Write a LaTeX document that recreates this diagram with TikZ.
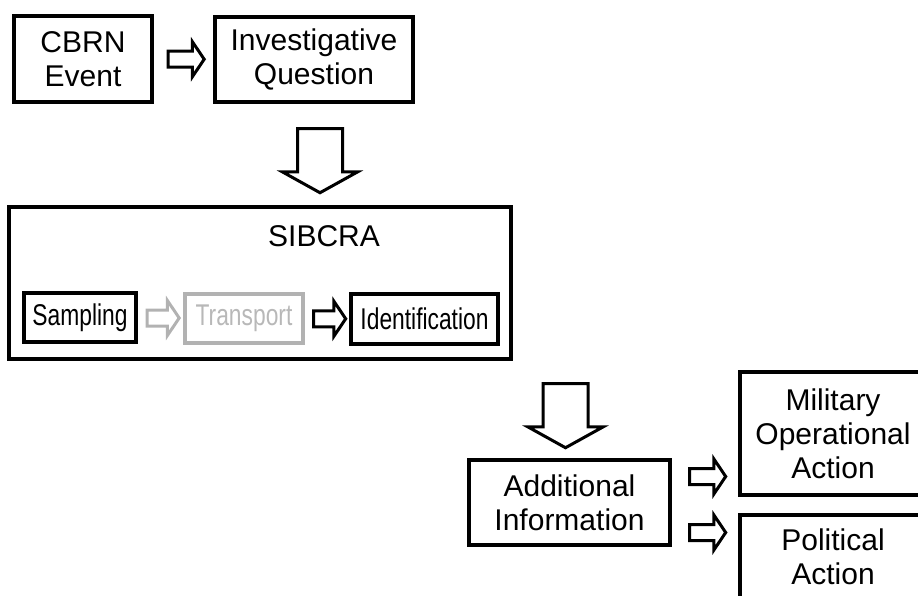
\documentclass[tikz,border=0pt]{standalone}
\usepackage{fontspec}
\setmainfont{Liberation Sans}
\newfontfamily\narrowsans{Liberation Sans}[FakeStretch=0.76]
\usetikzlibrary{shapes.arrows,calc}

\begin{document}
\begin{tikzpicture}[x=1pt, y=-1pt,
    box/.style={draw, rectangle, line width=4pt, align=center, inner sep=0pt, font=\fontsize{30}{34}\selectfont},
    stagebox/.style={box, font=\fontsize{30}{34}\narrowsans},
    faded/.style={draw=black!30, text=black!28},
    fatarrow/.style={draw, single arrow, line width=3pt, inner xsep=0pt, inner ysep=6.5pt, minimum height=36pt, minimum width=32pt, single arrow head extend=9.5pt, single arrow tip angle=112, single arrow head indent=0pt},
    bigarrow/.style={fatarrow, inner sep=21pt, minimum height=64pt, minimum width=72pt, single arrow head extend=15pt, single arrow tip angle=122, shape border rotate=270}]
    \useasboundingbox (0,0) rectangle (918,596);
        \node[box, minimum width=138pt, minimum height=86pt] (cbrn) at (83,59) {CBRN\\Event};
        \node[box, minimum width=198pt, minimum height=85pt] (question) at (314,59.5) {Investigative\\Question};
        \node[box, minimum width=502pt, minimum height=152pt] (sibcra) at (260,283) {};
        \node[font=\fontsize{30}{34}\selectfont, inner sep=0pt] (sibcralabel) at (324,236) {SIBCRA};
        \node[stagebox, minimum width=112pt, minimum height=49pt] (sampling) at (80,317.5) {Sampling};
        \node[stagebox, faded, minimum width=118pt, minimum height=49pt] (transport) at (244,318.5) {Transport};
        \node[stagebox, minimum width=147pt, minimum height=50pt] (ident) at (424.5,319) {Identification};
        \node[box, minimum width=201pt, minimum height=85pt] (addinfo) at (569.5,502.5) {Additional\\Information};
        \node[box, minimum width=186pt, minimum height=123pt] (military) at (833,433.5) {Military\\Operational\\Action};
        \node[box, minimum width=186pt, minimum height=84pt] (political) at (833,557) {Political\\Action};
        % block arrows between the boxes
        \node[fatarrow] (a1) at ($(cbrn.east)!0.5!(question.west)$) {};
        \node[bigarrow, xshift=6pt] (a2) at ($(question.south)!0.5!(question.south |- sibcra.north)$) {};
        \node[fatarrow, draw=black!30, minimum height=32pt] (a3) at ($(sampling.east)!0.5!(transport.west)$) {};
        \node[fatarrow, minimum height=32pt] (a4) at ($(transport.east)!0.5!(ident.west)$) {};
        \node[bigarrow, xshift=-4pt] (a5) at ($(addinfo.north)!0.5!(addinfo.north |- sibcra.south)$) {};
        \node[fatarrow, yshift=26pt] (a6) at ($(addinfo.east)!0.5!(military.west |- addinfo.east)$) {};
        \node[fatarrow, yshift=-30pt] (a7) at ($(addinfo.east)!0.5!(political.west |- addinfo.east)$) {};
\end{tikzpicture}
\end{document}
